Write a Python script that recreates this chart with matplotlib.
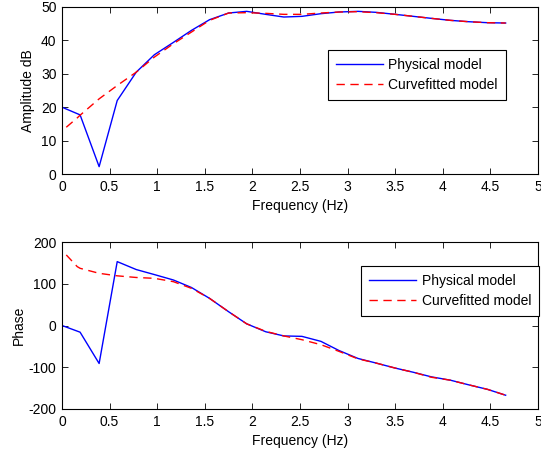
import matplotlib.pyplot as plt
import numpy as np

plt.rcParams['font.family'] = ['Liberation Sans', 'DejaVu Sans']
plt.rcParams['axes.unicode_minus'] = False

freq = [0, 0.19, 0.39, 0.58, 0.78, 0.97, 1.17, 1.36, 1.55, 1.75, 1.94, 2.14, 2.33,
        2.52, 2.72, 2.91, 3.11, 3.30, 3.50, 3.69, 3.88, 4.08, 4.27, 4.47, 4.66]
freq_fit = [0.045, 0.16, 0.19, 0.39, 0.58, 0.78, 0.97, 1.17, 1.36, 1.55, 1.75, 1.94, 2.14, 2.33,
            2.52, 2.72, 2.91, 3.11, 3.30, 3.50, 3.69, 3.88, 4.08, 4.27, 4.47, 4.66]

amp_phys = [20, 17.7, 2.2, 22, 30.5, 35.7, 39.4, 43, 46.2, 48.2, 48.7, 47.8, 47.0,
            47.2, 48.0, 48.5, 48.7, 48.4, 47.8, 47.2, 46.6, 46.0, 45.6, 45.3, 45.2]
amp_fit = [14, 16.8, 17.6, 22.5, 26.5, 30.5, 35, 39, 42.5, 46, 48.2, 48.3, 48.1, 47.8,
           47.8, 48.2, 48.5, 48.6, 48.3, 47.8, 47.2, 46.6, 46.0, 45.6, 45.3, 45.2]

phase_phys = [0, -16, -91, 153, 134, 122, 109, 91, 65, 33, 4, -15, -25,
              -26, -38, -60, -79, -90, -102, -112, -123, -131, -142, -153, -167]
phase_fit = [169, 141, 137, 125, 119, 115, 113, 105, 89, 65, 33, 4, -14, -25,
             -34, -46, -62, -80, -90, -102, -112, -124, -131, -142, -153, -167]

fig = plt.figure(figsize=(5.41, 4.55), dpi=100)
W, H = 541, 455
ax1 = fig.add_axes([62 / W, 1 - 174 / H, 476 / W, 167 / H])
ax2 = fig.add_axes([62 / W, 1 - 409 / H, 476 / W, 167 / H])

ax1.plot(freq, amp_phys, color='#0000ff', lw=1, label='Physical model')
ax1.plot(freq_fit, amp_fit, color='#ff0000', lw=1, ls=(0, (6, 4)), label='Curvefitted model')
ax1.set_xlim(0, 5)
ax1.set_ylim(0, 50)
ax1.set_yticks([0, 10, 20, 30, 40, 50])
ax1.set_ylabel('Amplitude dB', fontsize=10, labelpad=4)

ax2.plot(freq, phase_phys, color='#0000ff', lw=1, label='Physical model')
ax2.plot(freq_fit, phase_fit, color='#ff0000', lw=1, ls=(0, (6, 4)), label='Curvefitted model')
ax2.set_xlim(0, 5)
ax2.set_ylim(-200, 200)
ax2.set_yticks([-200, -100, 0, 100, 200])
ax2.set_ylabel('Phase', fontsize=10, labelpad=2)

for ax in (ax1, ax2):
    ax.set_xticks(np.arange(0, 5.01, 0.5))
    ax.set_xticklabels(['0', '0.5', '1', '1.5', '2', '2.5', '3', '3.5', '4', '4.5', '5'])
    ax.tick_params(direction='in', top=True, right=True, length=4, width=0.6,
                   labelsize=10, pad=4)
    ax.set_xlabel('Frequency (Hz)', fontsize=10, labelpad=4)
    for s in ax.spines.values():
        s.set_linewidth(0.8)

leg_kw = dict(fontsize=10, fancybox=False, edgecolor='black', framealpha=1,
              handlelength=3.4, borderpad=0.55, labelspacing=0.45, handletextpad=0.4,
              borderaxespad=0)
leg1 = ax1.legend(loc='upper left', bbox_to_anchor=((328 - 62) / 476, (174 - 50) / 167), **leg_kw)
leg1.get_frame().set_linewidth(0.8)
leg2 = ax2.legend(loc='upper right', bbox_to_anchor=((539 - 62) / 476, (409 - 266) / 167), **leg_kw)
leg2.get_frame().set_linewidth(0.8)

plt.savefig('out.png', dpi=100)
